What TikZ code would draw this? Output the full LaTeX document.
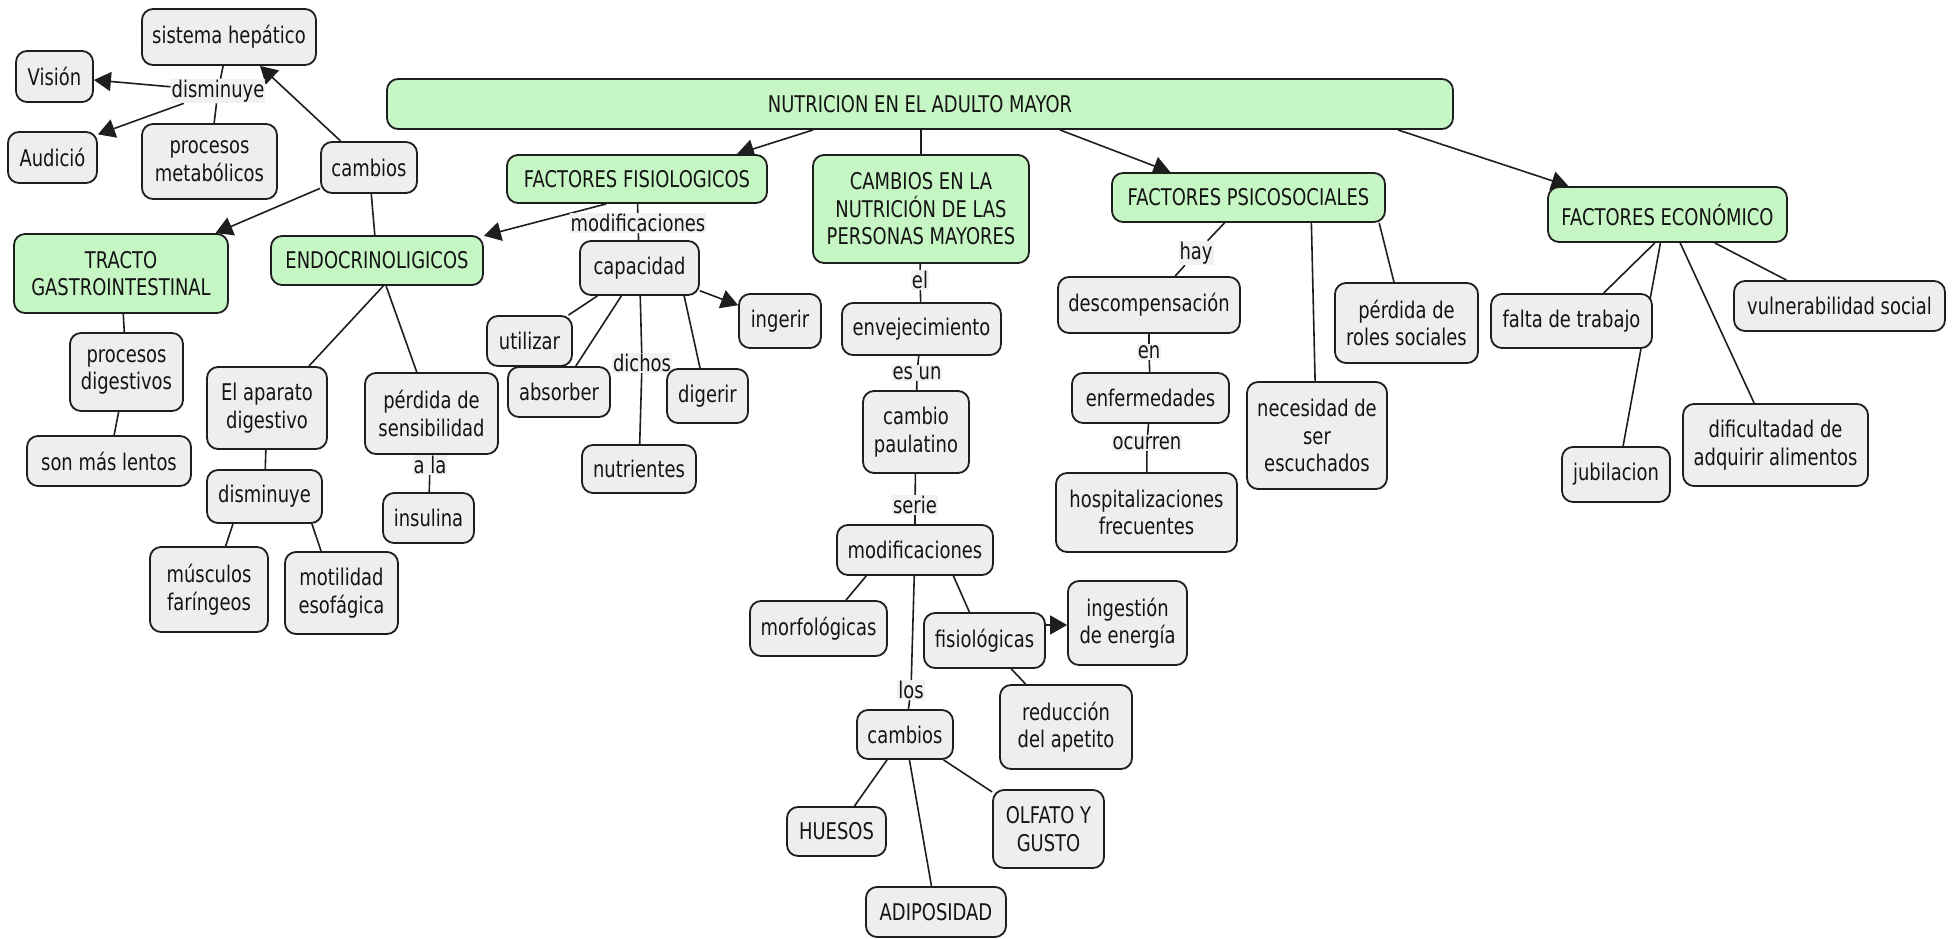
\documentclass[tikz,border=0pt]{standalone}
\usepackage{fontspec}
\setmainfont{DejaVu Sans}[FakeStretch=0.78]
\usetikzlibrary{arrows.meta,calc}
\pgfdeclarelayer{bg}
\pgfdeclarelayer{edges}
\pgfsetlayers{bg,edges,main}
\definecolor{cgreen}{RGB}{198,246,196}
\definecolor{cgray}{RGB}{238,238,238}
\definecolor{clbl}{RGB}{241,241,241}
\definecolor{cline}{RGB}{30,30,30}
\tikzset{
  base/.style={draw=cline, line width=1.8pt, rounded corners=11pt, inner sep=0pt, align=center,
    font=\fontsize{23}{27.6}\selectfont, text=black!92},
  gc/.style={base, fill=cgray},
  gr/.style={base, fill=cgreen},
  lbl/.style={fill=clbl, inner sep=1pt, font=\fontsize{23}{27.6}\selectfont, text=black!92},
  con/.style={draw=cline, line width=1.6pt},
  arr/.style={con, -{Triangle[length=17pt,width=19pt]}},
}
\begin{document}
\begin{tikzpicture}[x=1pt,y=-1pt]
\useasboundingbox (0,0) rectangle (1955,939);
\begin{pgfonlayer}{bg}
\fill[white] (0,0) rectangle (1955,939);
\end{pgfonlayer}

% ---- top left cluster
\node[gc, minimum width=174pt, minimum height=56pt] (sh) at (229,37) {sistema hepático};
\node[gc, minimum width=77pt, minimum height=51pt] (vis) at (54.5,76.5) {Visión};
\node[gc, minimum width=89pt, minimum height=51pt] (aud) at (52.5,157.5) {Audició};
\node[gc, minimum width=135pt, minimum height=75pt] (pm) at (209.5,161.5) {procesos\\metabólicos};
\node[gc, minimum width=96pt, minimum height=51pt] (cb1) at (369,167.5) {cambios};
\node[lbl] (l1) at (218,91) {disminuye};
\node[gr, minimum width=214pt, minimum height=79pt] (tg) at (121,273.5) {TRACTO\\GASTROINTESTINAL};
\node[gr, minimum width=212pt, minimum height=49pt] (endo) at (377,260.5) {ENDOCRINOLIGICOS};
\node[gc, minimum width=113pt, minimum height=78pt] (pd) at (126.5,372) {procesos\\digestivos};
\node[gc, minimum width=164pt, minimum height=50pt] (sml) at (109,461) {son más lentos};
\node[gc, minimum width=120pt, minimum height=82pt] (ap) at (267,408) {El aparato\\digestivo};
\node[gc, minimum width=115pt, minimum height=53pt] (dis2) at (264.5,496.5) {disminuye};
\node[gc, minimum width=118pt, minimum height=85pt] (mus) at (209,589.5) {músculos\\faríngeos};
\node[gc, minimum width=113pt, minimum height=82pt] (mot) at (341.5,593) {motilidad\\esofágica};
\node[gc, minimum width=133pt, minimum height=81pt] (ps) at (431.5,413.5) {pérdida de\\sensibilidad};
\node[lbl] (l11) at (430,465) {a la};
\node[gc, minimum width=91pt, minimum height=50pt] (ins) at (428.5,518) {insulina};

% ---- main
\node[gr, minimum width=1066pt, minimum height=50pt] (nut) at (920,104) {NUTRICION EN EL ADULTO MAYOR};

% ---- factores fisiologicos
\node[gr, minimum width=260pt, minimum height=48pt] (ff) at (637,179) {FACTORES FISIOLOGICOS};
\node[lbl] (l2) at (638,223) {modificaciones};
\node[gc, minimum width=119pt, minimum height=54pt] (cap) at (639.5,268) {capacidad};
\node[gc, minimum width=82pt, minimum height=54pt] (ing) at (780,321) {ingerir};
\node[gc, minimum width=85pt, minimum height=50pt] (uti) at (529.5,341) {utilizar};
\node[gc, minimum width=102pt, minimum height=50pt] (abs) at (559,392) {absorber};
\node[lbl] (l3) at (642,363) {dichos};
\node[gc, minimum width=114pt, minimum height=48pt] (nutr) at (639,469) {nutrientes};
\node[gc, minimum width=81pt, minimum height=54pt] (dig) at (707.5,396) {digerir};

% ---- cambios en la nutricion
\node[gr, minimum width=216pt, minimum height=108pt] (cam) at (921,209) {CAMBIOS EN LA\\NUTRICIÓN DE LAS\\PERSONAS MAYORES};
\node[lbl] (l4) at (920,280) {el};
\node[gc, minimum width=159pt, minimum height=52pt] (env) at (921.5,329) {envejecimiento};
\node[lbl] (l5) at (917,373) {es un\ };
\node[gc, minimum width=106pt, minimum height=82pt] (cp) at (916,432) {cambio\\paulatino};
\node[lbl] (l6) at (915,505) {serie};
\node[gc, minimum width=156pt, minimum height=50pt] (mod) at (915,550) {modificaciones};
\node[gc, minimum width=137pt, minimum height=55pt] (mor) at (818.5,628.5) {morfológicas};
\node[gc, minimum width=121pt, minimum height=55pt] (fis) at (984.5,640.5) {fisiológicas};
\node[gc, minimum width=119pt, minimum height=84pt] (ie) at (1127.5,623) {ingestión\\de energía};
\node[gc, minimum width=132pt, minimum height=84pt] (rda) at (1066,727) {reducción\\del apetito};
\node[lbl] (l7) at (911,690) {los};
\node[gc, minimum width=96pt, minimum height=49pt] (cb2) at (905,734.5) {cambios};
\node[gc, minimum width=99pt, minimum height=49pt] (hue) at (836.5,831.5) {HUESOS};
\node[gc, minimum width=140pt, minimum height=50pt] (adi) at (936,912) {ADIPOSIDAD};
\node[gc, minimum width=111pt, minimum height=78pt] (olf) at (1048.5,829) {OLFATO Y\\GUSTO};

% ---- psicosociales
\node[gr, minimum width=273pt, minimum height=49pt] (fp) at (1248.5,197.5) {FACTORES PSICOSOCIALES};
\node[lbl] (l8) at (1196,253) {hay};
\node[gc, minimum width=182pt, minimum height=56pt] (des) at (1149,305) {descompensación};
\node[lbl] (l9) at (1149,352) {en};
\node[gc, minimum width=157pt, minimum height=50pt] (enf) at (1150.5,398) {enfermedades};
\node[lbl] (l10) at (1147,443) {ocurren};
\node[gc, minimum width=181pt, minimum height=79pt] (hos) at (1146.5,512.5) {hospitalizaciones\\frecuentes};
\node[gc, minimum width=140pt, minimum height=107pt] (nec) at (1317,435.5) {necesidad de\\ser\\escuchados};
\node[gc, minimum width=143pt, minimum height=80pt] (prs) at (1406.5,323) {pérdida de\\roles sociales};

% ---- economico
\node[gr, minimum width=239pt, minimum height=55pt] (fe) at (1667.5,214.5) {FACTORES ECONÓMICO};
\node[gc, minimum width=161pt, minimum height=54pt] (fdt) at (1571.5,321) {falta de trabajo};
\node[gc, minimum width=108pt, minimum height=55pt] (jub) at (1616,474.5) {jubilacion};
\node[gc, minimum width=185pt, minimum height=82pt] (dif) at (1775.5,445) {dificultadad de\\adquirir alimentos};
\node[gc, minimum width=211pt, minimum height=50pt] (vul) at (1839.5,306) {vulnerabilidad social};

\begin{pgfonlayer}{edges}
% top left
\draw[arr] (cb1) -- (sh);
\draw[con] (sh) -- (l1);
\draw[con] (l1) -- (pm);
\draw[arr] (l1) -- (vis);
\draw[arr] (l1) -- (aud.27);
\draw[arr] (cb1) -- (tg);
\draw[con] (cb1) -- (endo);
\draw[con] (tg) -- (pd);
\draw[con] (pd) -- (sml);
\draw[con] (endo.-76) -- (ap.45);
\draw[con] (endo) -- (ps);
\draw[con] (ap) -- (dis2);
\draw[con] (dis2.-139) -- (mus.69);
\draw[con] (dis2.-30) -- (mot.116);
\draw[con] (ps) -- (l11);
\draw[con] (l11) -- (ins);
% fisiologicos
\draw[arr] ($(nut.south west)!0.4!(nut.south east)$) -- (ff.14);
\draw[arr] (ff.-141) -- (endo.13);
\draw[con] (ff) -- (l2);
\draw[con] (l2) -- (cap);
\draw[arr] (cap) -- (ing);
\draw[con] (cap) -- (uti);
\draw[con] (cap) -- (abs);
\draw[con] (cap) -- (l3);
\draw[con] (l3) -- (nutr);
\draw[con] (cap.-32) -- (dig.105);
% cambios
\draw[con] (cam.north) -- (cam.north |- nut.south);
\draw[con] (cam) -- (l4);
\draw[con] (l4) -- (env);
\draw[con] (env) -- (l5);
\draw[con] (l5) -- (cp);
\draw[con] (cp) -- (l6);
\draw[con] (l6) -- (mod);
\draw[con] (mod.-152) -- (mor.46);
\draw[con] (mod.-34) -- (fis.118);
\draw[arr] ([yshift=-2pt]ie.west -| fis.east) -- ([yshift=-2pt]ie.west);
\draw[con] (fis) -- (rda);
\draw[con] (mod) -- (l7);
\draw[con] (l7) -- (cb2);
\draw[con] (cb2) -- (hue);
\draw[con] (cb2) -- (adi);
\draw[con] (cb2) -- (olf);
% psicosociales
\draw[arr] ($(nut.south west)!0.631!(nut.south east)$) -- (fp.162);
\draw[con] (fp) -- (l8);
\draw[con] (l8) -- (des);
\draw[con] (des) -- (l9);
\draw[con] (l9) -- (enf);
\draw[con] (enf) -- (l10);
\draw[con] (l10) -- (hos);
\draw[con] (fp.-22) -- (nec.92);
\draw[con] (fp.-11) -- (prs.107);
% economico
\draw[arr] ($(nut.south west)!0.9475!(nut.south east)$) -- (fe.164);
\draw[con] (fe.-114) -- (fdt.41);
\draw[con] (fe.-104) -- (jub.76);
\draw[con] (fe.-66) -- (dif.117);
\draw[con] (fe.-31) -- (vul.154);
\end{pgfonlayer}
\end{tikzpicture}
\end{document}
